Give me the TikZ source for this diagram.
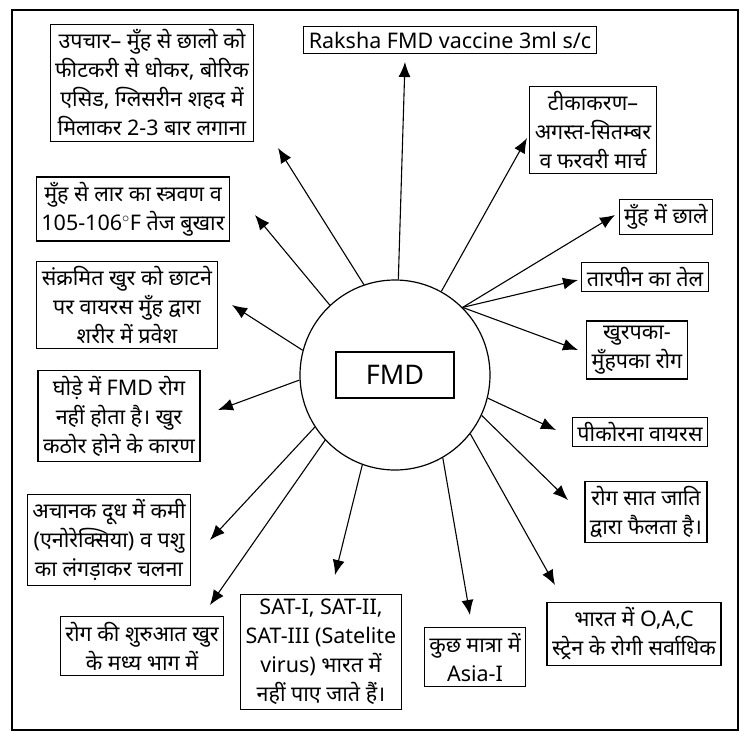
\documentclass[tikz,border=0pt]{standalone}
\usepackage{fontspec}
\setmainfont[Script=Devanagari]{Noto Sans}
\usetikzlibrary{arrows.meta}
\begin{document}
\begin{tikzpicture}[x=1pt,y=-1pt,
  bx/.style={draw,line width=1.2pt,align=center,font=\fontsize{21.5}{29}\selectfont,inner sep=5pt},
  arr/.style={-{Latex[length=15pt,width=12pt]},line width=1.1pt}]
\useasboundingbox (0,0) rectangle (748,740);
\draw[line width=1.2pt] (12,10) rectangle (738,730);
\node[draw,circle,line width=1.2pt,minimum size=190pt] (c) at (395,375) {};
\node[draw,line width=2pt,minimum width=118pt,minimum height=46pt,font=\fontsize{27}{30}\selectfont] (f) at (395,375) {FMD};
\node[bx] (b1) at (152,83) {उपचार– मुँह से छालो को\\फीटकरी से धोकर, बोरिक\\एसिड, ग्लिसरीन शहद में\\मिलाकर 2-3 बार लगाना};
\node[bx] (b2) at (450,40) {Raksha FMD vaccine 3ml s/c};
\node[bx] (b3) at (593,130) {टीकाकरण–\\अगस्त-सितम्बर\\व फरवरी मार्च};
\node[bx] (b4) at (666,217) {मुँह में छाले};
\node[bx] (b5) at (645,277) {तारपीन का तेल};
\node[bx] (b6) at (637,350) {खुरपका-\\मुँहपका रोग};
\node[bx] (b7) at (640,432) {पीकोरना वायरस};
\node[bx] (b8) at (646,512) {रोग सात जाति\\द्वारा फैलता है।};
\node[bx] (b9) at (634,634) {भारत में O,A,C\\स्ट्रेन के रोगी सर्वाधिक};
\node[bx] (b10) at (475,657) {कुछ मात्रा में\\Asia-I};
\node[bx] (b11) at (321,652) {SAT-I, SAT-II,\\SAT-III (Satelite\\virus) भारत में\\नहीं पाए जाते हैं।};
\node[bx] (b12) at (142,646) {रोग की शुरुआत खुर\\के मध्य भाग में};
\node[bx] (b13) at (109,540) {अचानक दूध में कमी\\(एनोरेक्सिया) व पशु\\का लंगड़ाकर चलना};
\node[bx] (b14) at (119,416) {घोड़े में FMD रोग\\नहीं होता है। खुर\\कठोर होने के कारण};
\node[bx] (b15) at (127,305) {संक्रमित खुर को छाटने\\पर वायरस मुँह द्वारा\\शरीर में प्रवेश};
\node[bx] (b16) at (133,209) {मुँह से लार का स्त्रवण व\\105-106$^\circ$F तेज बुखार};
\coordinate (t1) at (278,148); \coordinate (t2) at (405,62);
\coordinate (t3) at (527,138); \coordinate (t4) at (615,215);
\coordinate (t5) at (578,280); \coordinate (t6) at (578,350);
\coordinate (t7) at (556,430); \coordinate (t8) at (568,500);
\coordinate (t9) at (555,585); \coordinate (t10) at (470,615);
\coordinate (t11) at (335,575); \coordinate (t12) at (210,605);
\coordinate (t13) at (210,540); \coordinate (t14) at (218,410);
\coordinate (t15) at (232,305); \coordinate (t16) at (255,215);
\draw[arr] (c.109) -- (t1);
\draw[arr] (c.88) -- (t2);
\draw[arr] (c.61) -- (t3);
\draw[arr] (c.45) -- (t4);
\draw[arr] (c.45) -- (t5);
\draw[arr] (c.45) -- (t6);
\draw[arr] (c.-14) -- (t7);
\draw[arr] (c.-25) -- (t8);
\draw[arr] (c.-38) -- (t9);
\draw[arr] (c.-60) -- (t10);
\draw[arr] (c.-110) -- (t11);
\draw[arr] (c.-137) -- (t12);
\draw[arr] (c.-147) -- (t13);
\draw[arr] (c.-177) -- (t14);
\draw[arr] (c.165) -- (t15);
\draw[arr] (c.133) -- (t16);
\end{tikzpicture}
\end{document}
